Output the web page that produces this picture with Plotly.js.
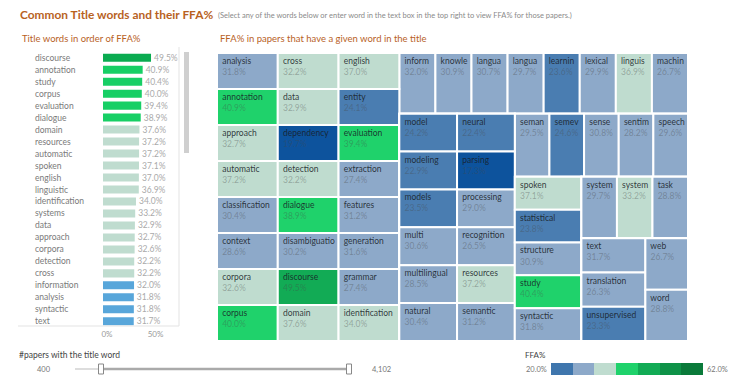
<!DOCTYPE html>
<html>
<head>
<meta charset="utf-8">
<script src="https://cdn.plot.ly/plotly-3.0.1.min.js"></script>
<style>
  html, body { margin: 0; padding: 0; background: #ffffff; }
  #chart { width: 740px; height: 385px; }
</style>
</head>
<body>
<div id="chart"></div>
<script>
// ---------------- DATA ----------------
// Left panel: title words in order of FFA%
const barWords = ['discourse','annotation','study','corpus','evaluation','dialogue','domain','resources',
  'automatic','spoken','english','linguistic','identification','systems','data','approach','corpora',
  'detection','cross','information','analysis','syntactic','text'];
const barFFA = [49.5,40.9,40.4,40.0,39.4,38.9,37.6,37.2,37.2,37.1,37.0,36.9,34.0,33.2,32.9,32.7,32.6,
  32.2,32.2,32.0,31.8,31.8,31.7];
const barTickVals = [0, 50];
const barTickText = ['0%', '50%'];

// Treemap: words (as displayed), FFA%, and the block each word sits in
const tmWords = ['analysis','annotation','approach','automatic','classification','context','corpora','corpus',
  'cross','data','dependency','detection','dialogue','disambiguatio','discourse','domain',
  'english','entity','evaluation','extraction','features','generation','grammar','identification',
  'inform','knowle','langua','langua','learnin','lexical','linguis','machin',
  'model','modeling','models','multi','multilingual','natural',
  'neural','parsing','processing','recognition','resources','semantic',
  'seman','semev','sense','sentim','speech',
  'spoken','statistical','structure','study','syntactic',
  'system','system','task',
  'text','translation','unsupervised',
  'web','word'];
const tmFFA = [31.8,40.9,32.7,37.2,30.4,28.6,32.6,40.0,
  32.2,32.9,19.7,32.2,38.9,30.2,49.5,37.6,
  37.0,24.1,39.4,27.4,31.2,31.6,27.4,34.0,
  32.0,30.9,30.7,29.7,23.6,29.9,36.9,26.7,
  24.2,22.9,23.5,30.6,28.5,30.4,
  22.4,17.3,29.0,26.5,37.2,31.2,
  29.5,24.6,30.8,28.2,29.6,
  37.1,23.8,30.9,40.4,31.8,
  29.7,33.2,28.8,
  31.7,26.3,23.3,
  26.7,28.8];
const tmGroup = ['A1','A1','A1','A1','A1','A1','A1','A1',
  'A2','A2','A2','A2','A2','A2','A2','A2',
  'A3','A3','A3','A3','A3','A3','A3','A3',
  'B1','B1','B1','B1','B1','B1','B1','B1',
  'M1','M1','M1','M1','M1','M1',
  'M2','M2','M2','M2','M2','M2',
  'B2b1','B2b1','B2b1','B2b1','B2b1',
  'C1','C1','C1','C1','C1',
  'C2a','C2a','C2a',
  'C2b1','C2b1','C2b1',
  'C2b2','C2b2'];
// block structure of the treemap (squarified blocks)
const groupIds     = ['R','A','AX','A1','A2','A3','B','B1','B2','B2a','B2aX','M1','M2','B2b','B2b1','B2b2','C1','C2','C2a','C2b','C2b1','C2b2'];
const groupParents = ['', 'R','A','AX','AX','AX','R','B','B','B2','B2a','B2aX','B2aX','B2','B2b','B2b','B2b2','B2b2','C2','C2','C2b','C2b'];

// Colour legend steps
const legendEdges = [20, 26, 32, 38, 44, 50, 56, 62];
const legendColors = ['#3f76ad','#8da9c9','#bfdccf','#1fd26b','#12ab55','#0e9248','#0a7a3a'];

// ---------------- STYLE HELPERS ----------------
const W = 740, H = 385;
const px = x => x / W;
const py = y => 1 - y / H;
const FONT = 'Lato, "Noto Sans", sans-serif';
const ORANGE = '#b8621f';

function tmColor(v) {
  if (v < 20) return '#0d539d';
  if (v < 26) return '#4a7db1';
  if (v < 32.1) return '#8da9c9';
  if (v < 38) return '#bfdccf';
  if (v < 45) return '#1fd26b';
  return '#12ab55';
}
function barColor(v) {
  if (v >= 45) return '#0aab50';
  if (v >= 38) return '#17cf65';
  if (v >= 32.1) return '#bfdccf';
  return '#58a6da';
}
const pct = v => v.toFixed(1) + '%';

// ---------------- TRACES ----------------
const barTrace = {
  type: 'bar', orientation: 'h',
  x: barFFA, y: barWords,
  marker: { color: barFFA.map(barColor) },
  text: barFFA.map(pct), textposition: 'outside', cliponaxis: false, constraintext: 'none',
  textfont: { family: FONT, size: 8, color: '#aaaaaa' },
  hoverinfo: 'skip', xaxis: 'x', yaxis: 'y', showlegend: false
};

const ids = [], labels = [], parents = [], values = [], colors = [], texts = [], tts = [];
groupIds.forEach((g, i) => {
  ids.push(g); labels.push(' '); parents.push(groupParents[i]); values.push(0);
  colors.push('#ffffff'); texts.push(''); tts.push('');
});
tmWords.forEach((w, i) => {
  ids.push('w' + i); labels.push(w); parents.push(tmGroup[i]); values.push(1);
  colors.push(tmColor(tmFFA[i])); texts.push(pct(tmFFA[i]));
  tts.push(" %{label}<br> <span style='color:rgba(70,70,70,0.42)'>%{text}</span>");
});

const treemap = {
  type: 'treemap',
  ids: ids, labels: labels, parents: parents, values: values, text: texts,
  branchvalues: 'remainder', sort: false,
  texttemplate: tts, textposition: 'top left',
  textfont: { family: FONT, size: 8.5, color: 'rgba(25,30,40,0.88)' },
  marker: { colors: colors, line: { color: '#ffffff', width: 2 }, pad: { t: 0, l: 0, r: 0, b: 0 }, depthfade: false },
  leaf: { opacity: 1 },
  tiling: { packing: 'slice-dice', pad: 0 },
  pathbar: { visible: false },
  domain: { x: [px(217), px(688)], y: [py(341), py(53)] },
  hoverinfo: 'skip'
};

// legend strip
const legMid = [], legZ = [];
for (let i = 0; i < legendColors.length; i++) {
  legMid.push((legendEdges[i] + legendEdges[i + 1]) / 2);
  legZ.push((legendEdges[i] + legendEdges[i + 1]) / 2);
}
const cs = [];
legendColors.forEach((c, i) => {
  cs.push([i / legendColors.length, c]);
  cs.push([(i + 1) / legendColors.length, c]);
});
const legendTrace = {
  type: 'heatmap', x: legMid, y: [0], z: [legZ],
  zmin: 20, zmax: 62, colorscale: cs, showscale: false,
  xaxis: 'x2', yaxis: 'y2', hoverinfo: 'skip', xgap: 0
};

// ---------------- LAYOUT ----------------
const annotations = [
  { text: '<b>Common Title words and their FFA%</b>', x: px(18), y: py(14), xref: 'paper', yref: 'paper',
    xanchor: 'left', yanchor: 'middle', showarrow: false, font: { family: FONT, size: 11.9, color: ORANGE } },
  { text: '(Select any of the words below or enter word in the text box in the top right to view FFA% for those papers.)',
    x: px(216), y: py(15), xref: 'paper', yref: 'paper', xanchor: 'left', yanchor: 'middle', showarrow: false,
    font: { family: FONT, size: 7.5, color: '#8a8a8a' } },
  { text: 'Title words in order of FFA%', x: px(20), y: py(38), xref: 'paper', yref: 'paper',
    xanchor: 'left', yanchor: 'middle', showarrow: false, font: { family: FONT, size: 9.5, color: ORANGE } },
  { text: 'FFA% in papers that have a given word in the title', x: px(218), y: py(38), xref: 'paper', yref: 'paper',
    xanchor: 'left', yanchor: 'middle', showarrow: false, font: { family: FONT, size: 9.5, color: ORANGE } },
  { text: '#papers with the title word', x: px(17), y: py(355), xref: 'paper', yref: 'paper',
    xanchor: 'left', yanchor: 'middle', showarrow: false, font: { family: FONT, size: 8.5, color: '#444' } },
  { text: '400', x: px(44), y: py(369), xref: 'paper', yref: 'paper',
    xanchor: 'center', yanchor: 'middle', showarrow: false, font: { family: FONT, size: 7.5, color: '#777' } },
  { text: '4,102', x: px(370), y: py(369), xref: 'paper', yref: 'paper',
    xanchor: 'left', yanchor: 'middle', showarrow: false, font: { family: FONT, size: 7.5, color: '#777' } },
  { text: 'FFA%', x: px(523), y: py(355), xref: 'paper', yref: 'paper',
    xanchor: 'left', yanchor: 'middle', showarrow: false, font: { family: FONT, size: 8, color: '#444' } },
  { text: '20.0%', x: px(549), y: py(369), xref: 'paper', yref: 'paper',
    xanchor: 'right', yanchor: 'middle', showarrow: false, font: { family: FONT, size: 7.5, color: '#777' } },
  { text: '62.0%', x: px(705), y: py(369), xref: 'paper', yref: 'paper',
    xanchor: 'left', yanchor: 'middle', showarrow: false, font: { family: FONT, size: 7.5, color: '#777' } }
];
barWords.forEach(w => {
  annotations.push({ text: w, x: px(33), y: w, xref: 'paper', yref: 'y', xanchor: 'left', yanchor: 'middle',
    showarrow: false, font: { family: FONT, size: 8.5, color: '#7a7a7a' } });
});

const shapes = [
  // left panel frame
  { type: 'line', xref: 'paper', yref: 'paper', x0: px(179), x1: px(179), y0: py(47), y1: py(326), line: { color: '#e3e3e3', width: 1 } },
  { type: 'line', xref: 'paper', yref: 'paper', x0: px(18), x1: px(179), y0: py(326), y1: py(326), line: { color: '#e3e3e3', width: 1 } },
  // scrollbar
  { type: 'rect', xref: 'paper', yref: 'paper', x0: px(184), x1: px(189), y0: py(153), y1: py(52), fillcolor: '#cfcfcf', line: { width: 0 } },
  // slider
  { type: 'line', xref: 'paper', yref: 'paper', x0: px(75), x1: px(101), y0: py(369), y1: py(369), line: { color: '#dddddd', width: 2 } },
  { type: 'line', xref: 'paper', yref: 'paper', x0: px(101), x1: px(349), y0: py(369), y1: py(369), line: { color: '#aaaaaa', width: 2.5 } },
  { type: 'rect', xref: 'paper', yref: 'paper', x0: px(98.5), x1: px(103.5), y0: py(374), y1: py(364), fillcolor: '#ffffff', line: { color: '#888', width: 1 } },
  { type: 'rect', xref: 'paper', yref: 'paper', x0: px(346.5), x1: px(351.5), y0: py(374), y1: py(364), fillcolor: '#ffffff', line: { color: '#888', width: 1 } }
];

const layout = {
  width: W, height: H,
  margin: { l: 0, r: 0, t: 0, b: 0 },
  paper_bgcolor: '#ffffff', plot_bgcolor: '#ffffff',
  font: { family: FONT },
  showlegend: false,
  bargap: 0.33,
  uniformtext: { minsize: 8.5, mode: 'show' },
  xaxis: { domain: [px(103), px(161.2)], range: [0, 60], tickvals: barTickVals, ticktext: barTickText,
    showgrid: false, zeroline: false, showline: false, ticks: '', fixedrange: true, ticklabelshift: 4,
    tickfont: { family: FONT, size: 8, color: '#999' }, anchor: 'y' },
  yaxis: { domain: [py(328.3), py(50.7)], type: 'category', categoryorder: 'array', categoryarray: barWords,
    autorange: 'reversed', showticklabels: false, showgrid: false, zeroline: false, showline: false, ticks: '', anchor: 'x' },
  xaxis2: { domain: [px(551), px(703)], range: [20, 62], visible: false, anchor: 'y2' },
  yaxis2: { domain: [py(375), py(363)], range: [-0.5, 0.5], visible: false, anchor: 'x2' },
  annotations: annotations,
  shapes: shapes
};

Plotly.newPlot('chart', [barTrace, treemap, legendTrace], layout, { displayModeBar: false, staticPlot: true });
</script>
</body>
</html>
